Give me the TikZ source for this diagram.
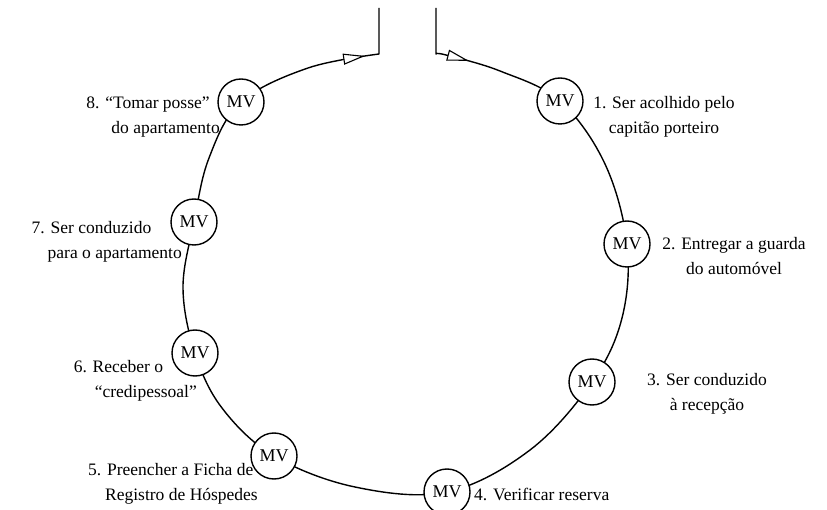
\documentclass[tikz,border=0pt]{standalone}
\usepackage{fontspec}
\setmainfont{Liberation Serif}
\usetikzlibrary{arrows.meta,decorations.markings,backgrounds}

\tikzset{tri/.tip={Triangle[length=22pt,width=11pt,fill=white]}}

\begin{document}
\begin{tikzpicture}[x=1pt,y=-1pt,
  every node/.style={font=\fontsize{17.5}{25}\selectfont},
  mv/.style={draw, circle, fill=white, minimum size=46pt, inner sep=0pt,
    line width=1.4pt, font=\fontsize{18}{20}\selectfont},
  lbl/.style={inner sep=0pt, align=center},
  lblr/.style={inner sep=0pt, align=left, anchor=east},
  flow/.style={line width=1.4pt, line join=round, postaction={decorate},
    decoration={markings,
      mark=at position 80pt with {\arrow[line width=1.1pt]{tri}},
      mark=at position -60pt with {\arrow[line width=1.1pt]{tri}}}}
]
\useasboundingbox (0,0) rectangle (827,510);

% moments of truth along the cycle
\node[mv] (m1) at (560,101) {MV};
\node[mv] (m2) at (627,244) {MV};
\node[mv] (m3) at (592,382) {MV};
\node[mv] (m4) at (447,492) {MV};
\node[mv] (m5) at (274,456) {MV};
\node[mv] (m6) at (195,353) {MV};
\node[mv] (m7) at (194,222) {MV};
\node[mv] (m8) at (241,102) {MV};

% entry (right) and exit (left) at the top
\coordinate (inTop) at (436,8);
\coordinate (cornerR) at (436,54);
\coordinate (cornerL) at (379,54);
\coordinate (outTop) at (379,8);

\begin{scope}[on background layer]
\draw[flow] (inTop) -- plot[smooth, tension=0.6] coordinates {
  (cornerR) (446,55) (500,71) (m1) (605,164) (m2) (622,318) (m3)
  (530,450) (m4) (355,487) (m5) (222,408) (m6) (183,288) (m7)
  (209,158) (m8) (308,68) (cornerL)} -- (outTop);
\end{scope}

% step descriptions
\node[lbl] (t1) at (664,117) {1. Ser acolhido pelo\\capitão porteiro};
\node[lbl] (t2) at (734,256) {2. Entregar a guarda\\do automóvel};
\node[lbl] (t3) at (707,394) {3. Ser conduzido\\à recepção};
\node[inner sep=0pt, anchor=west] (t4) at (474,494) {4. Verificar reserva};
\node[lblr] (t5) at (258,484) {5. Preencher a Ficha de\\\hspace*{17pt}Registro de Hóspedes};
\node[lblr] (t6) at (197,381) {6. Receber o\\\hspace*{21pt}“credipessoal”};
\node[lblr] (t7) at (182,242) {7. Ser conduzido\\\hspace*{16pt}para o apartamento};
\node[lblr] (t8) at (220,117) {8. “Tomar posse”\\\hspace*{25pt}do apartamento};
\end{tikzpicture}
\end{document}
